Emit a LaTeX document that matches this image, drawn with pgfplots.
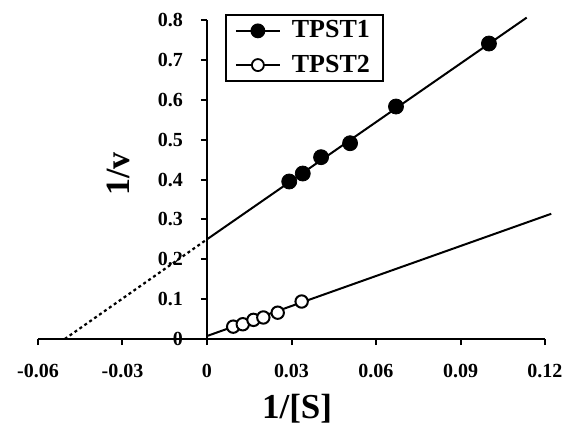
\documentclass[border=0pt]{standalone}
\usepackage{fontspec}
\setmainfont{Liberation Serif}
\usepackage{pgfplots}
\pgfplotsset{compat=1.18}
\begin{document}
\begin{tikzpicture}
% page frame: 563x425 px at 0.5pt per px, axis box at (38..545, 20..339) px
\path[use as bounding box] (-19pt,-43pt) rectangle (262.5pt,169.5pt);
% main axis: x axis along y=0, data and legend
\begin{axis}[
  at={(0,0)}, anchor=south west,
  scale only axis, width=253.5pt, height=159.5pt,
  xmin=-0.06, xmax=0.12, ymin=0, ymax=0.8,
  axis x line=bottom, axis y line=none,
  axis line style={-, line width=1.2pt},
  tick align=outside,
  major tick length=3pt,
  tick style={black, line width=1pt},
  xtick={-0.06,-0.03,0,0.03,0.06,0.09,0.12},
  xticklabels={-0.06,-0.03,0,0.03,0.06,0.09,0.12},
  xticklabel style={font=\fontsize{10}{12}\selectfont\bfseries, yshift=-6pt},
  xlabel={1/[S]},
  xlabel style={at={(axis description cs:0.511,0)}, anchor=center, yshift=-35pt,
    font=\fontsize{17.5}{20}\selectfont\bfseries},
  legend style={at={(0.369,1.019)}, anchor=north west, draw=black, line width=0.8pt,
    font=\fontsize{13}{15}\selectfont\bfseries, row sep=3pt,
    inner xsep=4.5pt, inner ysep=1pt, nodes={inner sep=2pt},
    /tikz/every odd column/.append style={column sep=3.5pt}},
  legend image code/.code={\draw[mark repeat=2,mark phase=2,#1]
    plot coordinates {(0pt,0pt) (11pt,0pt) (22pt,0pt)};},
  legend cell align=left,
  clip=false,
]
\addlegendimage{black, line width=1pt, mark=*, mark size=3.2pt, mark options={fill=black}}
\addlegendentry{TPST1}
\addlegendimage{black, line width=1pt, mark=*, mark size=3pt, mark options={fill=white, line width=0.9pt}}
\addlegendentry{TPST2}

% fitted lines
\addplot[black, line width=1pt, forget plot] coordinates {(0,0.25) (0.1135,0.806)};
\addplot[black, line width=1.1pt, dash pattern=on 1.5pt off 1.5pt, forget plot]
  coordinates {(-0.0505,0) (0,0.25)};
\addplot[black, line width=1pt, forget plot] coordinates {(0,0.0075) (0.1222,0.314)};

% TPST1 data
\addplot[only marks, mark=*, mark size=3.75pt, mark options={fill=black, draw=black}, forget plot]
  coordinates {(0.0292,0.395) (0.034,0.415) (0.0405,0.456) (0.0508,0.491) (0.0671,0.583) (0.1001,0.741)};
% TPST2 data
\addplot[only marks, mark=*, mark size=3.1pt, mark options={fill=white, draw=black, line width=1pt}, forget plot]
  coordinates {(0.0093,0.031) (0.0127,0.037) (0.0165,0.048) (0.0200,0.054) (0.0251,0.066) (0.0336,0.094)};
\end{axis}
% y axis standing at x = 0
\begin{axis}[
  at={(84.5pt,0)}, anchor=south west,
  scale only axis, width=169pt, height=159.5pt,
  xmin=0, xmax=0.12, ymin=0, ymax=0.8,
  axis y line=left, axis x line=none,
  axis line style={-, line width=1.2pt},
  tick align=outside,
  major tick length=3pt,
  tick style={black, line width=1pt},
  ytick={0,0.1,0.2,0.3,0.4,0.5,0.6,0.7,0.8},
  yticklabels={0,0.1,0.2,0.3,0.4,0.5,0.6,0.7,0.8},
  yticklabel style={font=\fontsize{10}{12}\selectfont\bfseries, xshift=-5.5pt},
  ylabel={1/v},
  ylabel style={at={(axis description cs:-0.263,0.517)}, anchor=center,
    font=\fontsize{17}{20}\selectfont\bfseries},
]
\end{axis}
\end{tikzpicture}
\end{document}
